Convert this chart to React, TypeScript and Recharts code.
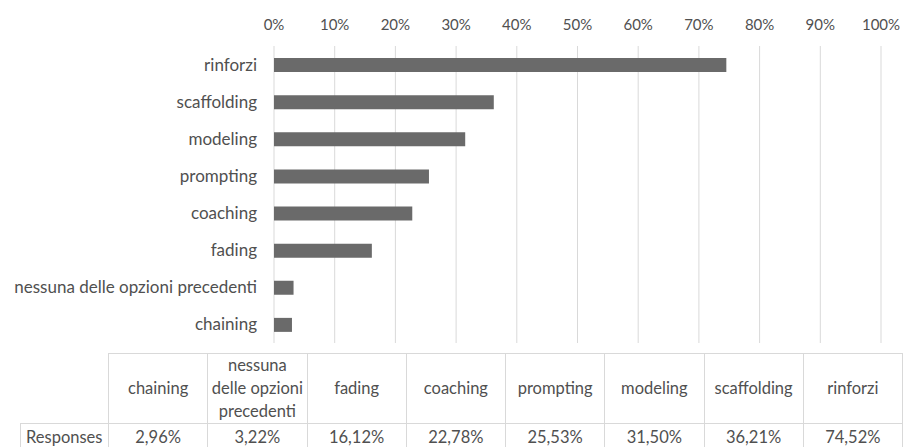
import React from 'react';
import { BarChart, Bar, XAxis, YAxis, CartesianGrid } from 'recharts';

// ascending order, same as the data table under the chart
const categories = [
  'chaining',
  'nessuna delle opzioni precedenti',
  'fading',
  'coaching',
  'prompting',
  'modeling',
  'scaffolding',
  'rinforzi',
];
const responses = [2.96, 3.22, 16.12, 22.78, 25.53, 31.5, 36.21, 74.52];
const tableHeaders = [
  'chaining',
  'nessuna\ndelle opzioni\nprecedenti',
  'fading',
  'coaching',
  'prompting',
  'modeling',
  'scaffolding',
  'rinforzi',
];
const percentTicks = [0, 10, 20, 30, 40, 50, 60, 70, 80, 90, 100];
const seriesName = 'Responses';

const data = categories.map((name, i) => ({ name, value: responses[i] }));

const FONT = 'Lato, "Open Sans", sans-serif';
const TEXT = '#505050';
const LINE = '#d9d9d9';

const fmt = (v: number) => v.toFixed(2).replace('.', ',') + '%';

const CategoryTick = ({ x, y, payload }: any) => (
  <text x={x} y={y} dy={6} textAnchor="end" fill={TEXT} fontSize={17} fontFamily={FONT}>
    {payload.value}
  </text>
);

const cellBase: React.CSSProperties = {
  border: `1px solid ${LINE}`,
  textAlign: 'center',
  padding: 0,
  whiteSpace: 'pre-line',
};

export default function App() {
  return (
    <div style={{ position: 'absolute', left: 0, top: 0, width: 904, height: 447, background: '#fff', overflow: 'hidden', fontFamily: FONT }}>
      <BarChart
        width={904}
        height={343}
        data={data}
        layout="vertical"
        margin={{ top: 0, right: 23, left: 0, bottom: 0 }}
        barCategoryGap={0}
      >
        <CartesianGrid horizontal={false} vertical stroke={LINE} />
        <XAxis
          type="number"
          orientation="top"
          domain={[0, 100]}
          ticks={percentTicks}
          tickFormatter={(v) => `${v}%`}
          axisLine={false}
          tickLine={false}
          tickSize={0}
          tickMargin={16}
          height={46}
          interval={0}
          tick={{ fill: TEXT, fontSize: 15, fontFamily: FONT }}
        />
        <YAxis
          type="category"
          dataKey="name"
          reversed
          width={274}
          axisLine={false}
          tickLine={false}
          tickSize={0}
          tickMargin={17}
          interval={0}
          tick={<CategoryTick />}
        />
        <Bar dataKey="value" name={seriesName} fill="#6a6a6a" barSize={14} isAnimationActive={false} />
      </BarChart>

      <table
        style={{
          position: 'absolute',
          left: 20,
          top: 353,
          borderCollapse: 'collapse',
          tableLayout: 'fixed',
          width: 882,
          fontSize: 16.5,
          lineHeight: '23px',
          color: TEXT,
          fontFamily: FONT,
        }}
      >
        <colgroup>
          <col style={{ width: 88 }} />
          {tableHeaders.map((h) => (
            <col key={h} style={{ width: 99.25 }} />
          ))}
        </colgroup>
        <tbody>
          <tr style={{ height: 68 }}>
            <td style={{ ...cellBase, borderTop: 'none', borderLeft: 'none' }} />
            {tableHeaders.map((h) => (
              <td key={h} style={cellBase}>
                {h}
              </td>
            ))}
          </tr>
          <tr style={{ height: 28 }}>
            <td style={{ ...cellBase, textAlign: 'left', paddingLeft: 5 }}>{seriesName}</td>
            {responses.map((v, i) => (
              <td key={i} style={cellBase}>
                {fmt(v)}
              </td>
            ))}
          </tr>
        </tbody>
      </table>
    </div>
  );
}
